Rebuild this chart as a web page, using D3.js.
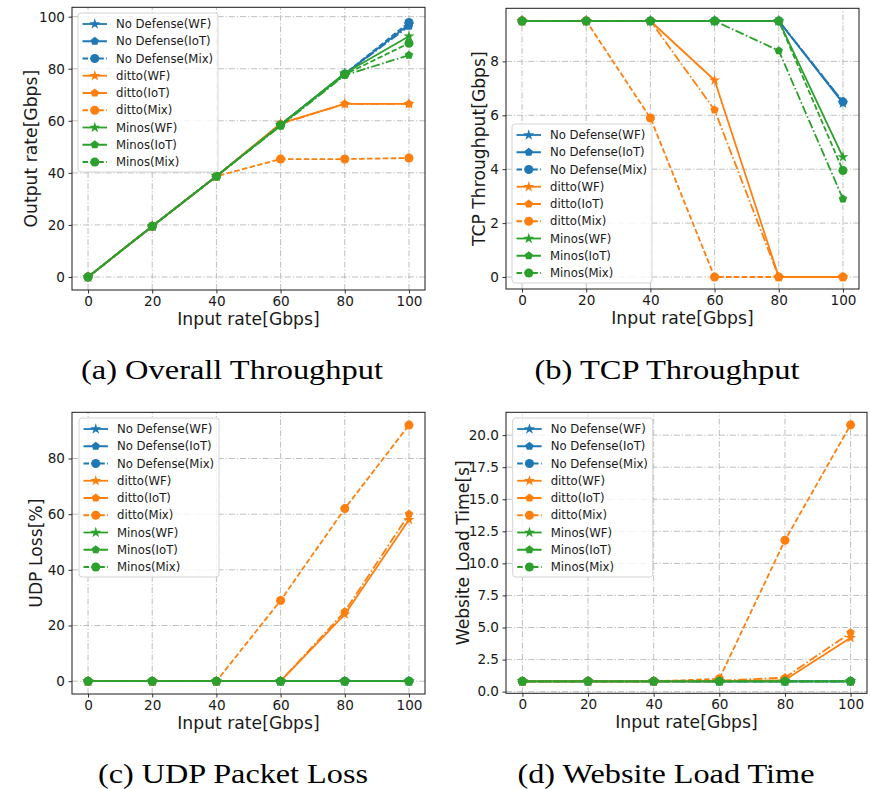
<!DOCTYPE html>
<html>
<head>
<meta charset="utf-8">
<script src="https://cdn.jsdelivr.net/npm/d3@7"></script>
<style>
  body { margin: 0; background: #fff; }
  svg text { font-family: "DejaVu Sans", sans-serif; fill: #1a1a1a; }
  svg text.caption { font-family: "Liberation Serif", "Times New Roman", serif; fill: #000; }
</style>
</head>
<body>
<div id="chart"></div>
<script>
// values
const inputRates = [0, 20, 40, 60, 80, 100];

const seriesNames = ['No Defense(WF)', 'No Defense(IoT)', 'No Defense(Mix)',
                     'ditto(WF)', 'ditto(IoT)', 'ditto(Mix)',
                     'Minos(WF)', 'Minos(IoT)', 'Minos(Mix)'];

// (a) output rate, Gbps
const overallThroughput = [
  [0, 19.5, 38.7, 58.5, 78.0, 97.0],
  [0, 19.5, 38.7, 58.5, 78.0, 96.3],
  [0, 19.5, 38.7, 58.5, 78.0, 97.8],
  [0, 19.5, 38.7, 59.0, 66.5, 66.5],
  [0, 19.5, 38.7, 58.8, 66.5, 66.5],
  [0, 19.5, 38.7, 45.3, 45.3, 45.7],
  [0, 19.5, 38.7, 58.5, 78.3, 92.5],
  [0, 19.5, 38.7, 58.0, 77.5, 85.2],
  [0, 19.5, 38.7, 58.3, 77.8, 89.8]
];

// (b) TCP throughput, Gbps
const tcpThroughput = [
  [9.5, 9.5, 9.5, 9.5, 9.5, 6.45],
  [9.5, 9.5, 9.5, 9.5, 9.5, 6.5],
  [9.5, 9.5, 9.5, 9.5, 9.5, 6.5],
  [9.5, 9.5, 9.5, 7.3, 0, 0],
  [9.5, 9.5, 9.5, 6.2, 0, 0],
  [9.5, 9.5, 5.9, 0, 0, 0],
  [9.5, 9.5, 9.5, 9.5, 9.5, 4.45],
  [9.5, 9.5, 9.5, 9.5, 8.4, 2.9],
  [9.5, 9.5, 9.5, 9.5, 9.5, 3.95]
];

// (c) UDP loss, %
const udpLoss = [
  [0, 0, 0, 0, 0, 0],
  [0, 0, 0, 0, 0, 0],
  [0, 0, 0, 0, 0, 0],
  [0, 0, 0, 0, 24, 58],
  [0, 0, 0, 0, 25, 60],
  [0, 0, 0, 29, 62, 92],
  [0, 0, 0, 0, 0, 0],
  [0, 0, 0, 0, 0, 0],
  [0, 0, 0, 0, 0, 0]
];

// (d) website load time, s
const loadTime = [
  [0.8, 0.8, 0.8, 0.8, 0.8, 0.8],
  [0.8, 0.8, 0.8, 0.8, 0.8, 0.8],
  [0.8, 0.8, 0.8, 0.8, 0.8, 0.8],
  [0.8, 0.8, 0.8, 0.8, 0.9, 4.2],
  [0.8, 0.8, 0.8, 0.85, 1.1, 4.6],
  [0.8, 0.8, 0.8, 1.0, 11.8, 20.8],
  [0.8, 0.8, 0.8, 0.8, 0.8, 0.8],
  [0.8, 0.8, 0.8, 0.8, 0.8, 0.8],
  [0.8, 0.8, 0.8, 0.8, 0.8, 0.8]
];

const xTicks = [0, 20, 40, 60, 80, 100];
const overallTicks = [0, 20, 40, 60, 80, 100];
const tcpTicks = [0, 2, 4, 6, 8];
const udpTicks = [0, 20, 40, 60, 80];
const loadTicks = [0, 2.5, 5, 7.5, 10, 12.5, 15, 17.5, 20];

const width = 870, height = 789;

const colours = ['#1f77b4', '#ff7f0e', '#2ca02c'];
const dashes = [null, '9,2.4,1.6,2.4', '5.5,2.4'];   // WF solid, IoT dash-dot, Mix dashed

// pentagon marker, d3 has none
const symbolPentagon = {
  draw(context, size) {
    const r = Math.sqrt(size / 2.378);
    for (let k = 0; k < 5; k++) {
      const a = -Math.PI / 2 + k * 2 * Math.PI / 5;
      if (k == 0) context.moveTo(r * Math.cos(a), r * Math.sin(a));
      else context.lineTo(r * Math.cos(a), r * Math.sin(a));
    }
    context.closePath();
  }
};
const markers = [d3.symbol(d3.symbolStar, 38), d3.symbol(symbolPentagon, 46), d3.symbol(d3.symbolCircle, 64)];

const panels = [
  {data: overallThroughput, ticks: overallTicks, fmt: d3.format('d'), yLabel: 'Output rate[Gbps]',
   yDomain: [-5, 103.6], xRange: [72, 425], yRange: [290, 7.3], yLabelX: 31,
   legend: [78, 13], caption: '(a) Overall Throughput', capX: 232, capY: 379, capW: 302},
  {data: tcpThroughput, ticks: tcpTicks, fmt: d3.format('d'), yLabel: 'TCP Throughput[Gbps]',
   yDomain: [-0.445, 9.97], xRange: [506, 859], yRange: [289, 8.3], yLabelX: 479,
   legend: [512, 124], caption: '(b) TCP Throughput', capX: 667, capY: 379, capW: 265},
  {data: udpLoss, ticks: udpTicks, fmt: d3.format('d'), yLabel: 'UDP Loss[%]',
   yDomain: [-4.6, 96.6], xRange: [72, 425], yRange: [694, 412.3], yLabelX: 36,
   legend: [79, 418], caption: '(c) UDP Packet Loss', capX: 233, capY: 783, capW: 270},
  {data: loadTime, ticks: loadTicks, fmt: d3.format('.1f'), yLabel: 'Website Load Time[s]',
   yDomain: [-0.13, 21.78], xRange: [506, 867], yRange: [693.3, 412.3], yLabelX: 463,
   legend: [512.7, 418], caption: '(d) Website Load Time', capX: 666, capY: 783, capW: 297}
];

const svg = d3.select('#chart')
              .append('svg')
              .attr('width', width)
              .attr('height', height);

panels.forEach(p => {

  const x = d3.scaleLinear().domain([-5, 105]).range(p.xRange);
  const y = d3.scaleLinear().domain(p.yDomain).range(p.yRange);
  const g = svg.append('g');

  // grid, dash-dot
  g.append('g')
   .selectAll('line.vgrid')
   .data(xTicks)
   .enter()
   .append('line')
   .attr('x1', d => x(d)).attr('x2', d => x(d))
   .attr('y1', p.yRange[0]).attr('y2', p.yRange[1])
   .style('stroke', '#b8b8b8').style('stroke-width', 0.9)
   .style('stroke-dasharray', '6,2,1.2,2');

  g.append('g')
   .selectAll('line.hgrid')
   .data(p.ticks)
   .enter()
   .append('line')
   .attr('x1', p.xRange[0]).attr('x2', p.xRange[1])
   .attr('y1', d => y(d)).attr('y2', d => y(d))
   .style('stroke', '#b8b8b8').style('stroke-width', 0.9)
   .style('stroke-dasharray', '6,2,1.2,2');

  // axes
  const xAxis = g.append('g')
                 .attr('transform', `translate(0, ${p.yRange[0]})`)
                 .call(d3.axisBottom(x).tickValues(xTicks).tickSize(3.5).tickPadding(3).tickFormat(d3.format('d')));
  const yAxis = g.append('g')
                 .attr('transform', `translate(${p.xRange[0]}, 0)`)
                 .call(d3.axisLeft(y).tickValues(p.ticks).tickSize(3.5).tickPadding(3.5).tickFormat(p.fmt));
  [xAxis, yAxis].forEach(a => {
    a.select('.domain').remove();
    a.selectAll('.tick line').style('stroke', '#1a1a1a').style('stroke-width', 0.9);
    a.selectAll('.tick text').style('font-size', '13.6px').style('font-family', '"DejaVu Sans", sans-serif').style('fill', '#1a1a1a');
  });

  // lines and markers, series in plotting order
  const line = d3.line().x((d, i) => x(inputRates[i])).y(d => y(d));

  p.data.forEach((vals, s) => {
    const c = colours[Math.floor(s / 3)];
    g.append('path')
     .datum(vals)
     .attr('d', line)
     .style('fill', 'none')
     .style('stroke', c)
     .style('stroke-width', 1.8)
     .style('stroke-linejoin', 'round')
     .style('stroke-dasharray', dashes[s % 3]);

    g.selectAll(null)
     .data(vals)
     .enter()
     .append('path')
     .attr('transform', (d, i) => `translate(${x(inputRates[i])}, ${y(d)})`)
     .attr('d', markers[s % 3])
     .style('fill', c);
  });

  // frame
  g.append('rect')
   .attr('x', p.xRange[0]).attr('y', p.yRange[1])
   .attr('width', p.xRange[1] - p.xRange[0])
   .attr('height', p.yRange[0] - p.yRange[1])
   .style('fill', 'none').style('stroke', '#1a1a1a').style('stroke-width', 1);

  // axis titles
  g.append('text')
   .attr('x', (p.xRange[0] + p.xRange[1]) / 2)
   .attr('y', p.yRange[0] + 35)
   .style('text-anchor', 'middle')
   .style('font-size', '17.2px')
   .text('Input rate[Gbps]');

  g.append('text')
   .attr('transform', `translate(${p.yLabelX}, ${(p.yRange[0] + p.yRange[1]) / 2}) rotate(-90)`)
   .attr('dy', '0.35em')
   .style('text-anchor', 'middle')
   .style('font-size', '17.2px')
   .text(p.yLabel);

  // legend
  const lg = g.append('g').attr('transform', `translate(${p.legend[0]}, ${p.legend[1]})`);
  lg.append('rect')
    .attr('width', 140).attr('height', 159).attr('rx', 3)
    .style('fill', '#fff').style('fill-opacity', 0.8)
    .style('stroke', '#d4d4d4').style('stroke-width', 1);

  seriesNames.forEach((name, s) => {
    const ly = 11 + s * 17.25;
    const c = colours[Math.floor(s / 3)];
    lg.append('line')
      .attr('x1', 4.5).attr('x2', 29).attr('y1', ly).attr('y2', ly)
      .style('stroke', c).style('stroke-width', 1.8)
      .style('stroke-dasharray', dashes[s % 3]);
    lg.append('path')
      .attr('transform', `translate(16.75, ${ly})`)
      .attr('d', markers[s % 3])
      .style('fill', c);
    lg.append('text')
      .attr('x', 38).attr('y', ly)
      .attr('dy', '0.36em')
      .style('font-size', '11.7px')
      .text(name);
  });

  // sub-figure caption
  svg.append('text')
     .attr('class', 'caption')
     .attr('x', p.capX - p.capW / 2)
     .attr('y', p.capY)
     .attr('textLength', p.capW)
     .attr('lengthAdjust', 'spacingAndGlyphs')
     .style('font-size', '28px')
     .text(p.caption);
});
</script>
</body>
</html>
